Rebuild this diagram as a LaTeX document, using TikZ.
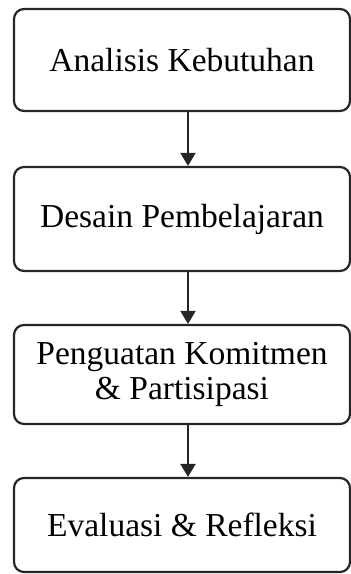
\documentclass[tikz,border=0pt]{standalone}
\usepackage{fontspec}
\setmainfont{Liberation Serif}
\usetikzlibrary{arrows.meta}
\begin{document}
\begin{tikzpicture}[x=1pt,y=-1pt,
  box/.style={draw=black!85, line width=2.2pt, rounded corners=10pt, minimum width=336pt, align=center, font=\fontsize{33.5}{35}\selectfont, inner sep=0pt},
  arr/.style={line width=2.2pt, draw=black!85, -{Triangle[width=15pt,length=13pt]}}]
\useasboundingbox (0,0) rectangle (351,574);
\node[box, minimum height=102pt] (b1) at (182,60) {Analisis Kebutuhan};
\node[box, minimum height=104pt] (b2) at (182,219) {Desain Pembelajaran};
\node[box, minimum height=99pt] (b3) at (182,374.5) {Penguatan Komitmen\\ \& Partisipasi};
\node[box, minimum height=94pt] (b4) at (182,525) {Evaluasi \& Refleksi};
\draw[arr] ([xshift=6pt]b1.south) -- ([xshift=6pt]b2.north);
\draw[arr] ([xshift=6pt]b2.south) -- ([xshift=6pt]b3.north);
\draw[arr] ([xshift=6pt]b3.south) -- ([xshift=6pt]b4.north);
\end{tikzpicture}
\end{document}
